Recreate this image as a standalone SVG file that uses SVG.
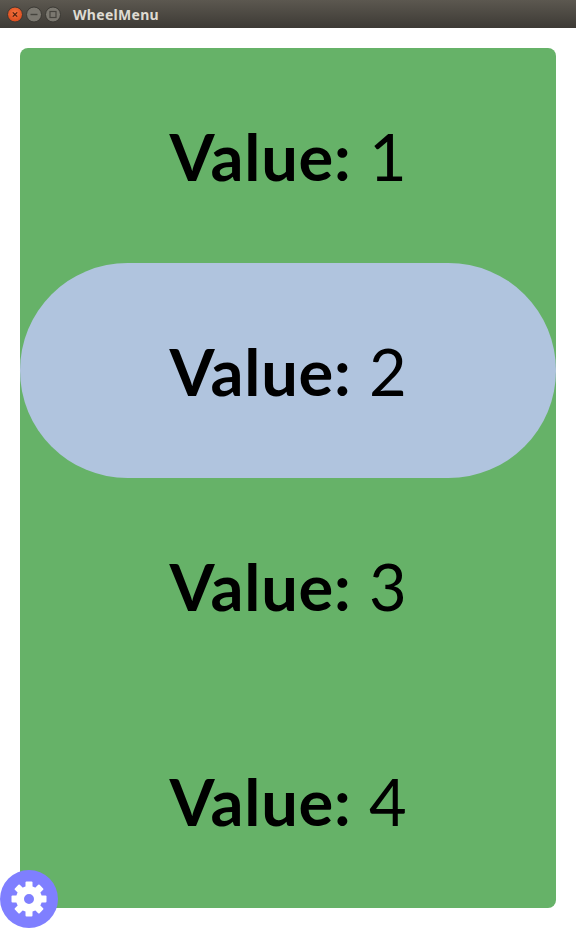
<svg xmlns="http://www.w3.org/2000/svg" width="576" height="928" viewBox="0 0 576 928">
<style>
.v{font-family:"Lato",sans-serif;font-size:65px;letter-spacing:.75px;fill:#000;text-anchor:middle}
.v tspan.b{font-weight:700}
.t{font-family:"Noto Sans","DejaVu Sans",sans-serif;font-weight:700;font-size:14px;letter-spacing:.3px;fill:#dfdbd2}
</style>
<defs>
<linearGradient id="bar" x1="0" y1="0" x2="0" y2="1"><stop offset="0" stop-color="#5c5850"/><stop offset="1" stop-color="#3d3a35"/></linearGradient>
<radialGradient id="cl" cx="0.5" cy="0.4" r="0.6"><stop offset="0" stop-color="#f5743f"/><stop offset="1" stop-color="#d94a1c"/></radialGradient>
<rect id="tooth" x="-3.500" y="-17.500" width="7" height="8" rx="1"/>
</defs>
<rect width="576" height="928" fill="#fff"/>
<g id="titlebar">
<rect width="576" height="28" fill="url(#bar)"/>
<circle cx="15" cy="14.500" r="7.500" fill="url(#cl)" stroke="#3a3833"/>
<path d="M12.800 12.300l4.400 4.400m0-4.400l-4.400 4.400" stroke="#4a2010" stroke-width="1.200" fill="none"/>
<circle cx="34" cy="14.500" r="7.500" fill="#7b7870" stroke="#3a3833"/>
<path d="M30.500 14.500h7" stroke="#46443e" stroke-width="1.400"/>
<circle cx="53" cy="14.500" r="7.500" fill="#7b7870" stroke="#3a3833"/>
<rect x="50" y="11.500" width="6" height="6" fill="none" stroke="#46443e" stroke-width="1.200"/>
<text class="t" x="73" y="20">WheelMenu</text>
</g>
<g id="panel"><rect x="20" y="48" width="536" height="860" rx="8" fill="#66b268"/></g>
<g id="value-1"><text class="v" x="288.500" y="181"><tspan class="b">Value:</tspan> 1</text></g>
<g id="value-2"><rect x="20" y="263" width="536" height="215" rx="107.500" fill="#b0c4de"/><text class="v" x="288.500" y="396"><tspan class="b">Value:</tspan> 2</text></g>
<g id="value-3"><text class="v" x="288.500" y="611"><tspan class="b">Value:</tspan> 3</text></g>
<g id="value-4"><text class="v" x="288.500" y="826"><tspan class="b">Value:</tspan> 4</text></g>
<g id="settings">
<circle cx="29" cy="899" r="29" fill="#7f7fff"/>
<g transform="translate(29 899)" fill="#fff">
<use href="#tooth"/><use href="#tooth" transform="rotate(45)"/><use href="#tooth" transform="rotate(90)"/><use href="#tooth" transform="rotate(135)"/><use href="#tooth" transform="rotate(180)"/><use href="#tooth" transform="rotate(225)"/><use href="#tooth" transform="rotate(270)"/><use href="#tooth" transform="rotate(315)"/>
<circle r="9" fill="none" stroke="#fff" stroke-width="8"/>
</g>
</g>
</svg>
